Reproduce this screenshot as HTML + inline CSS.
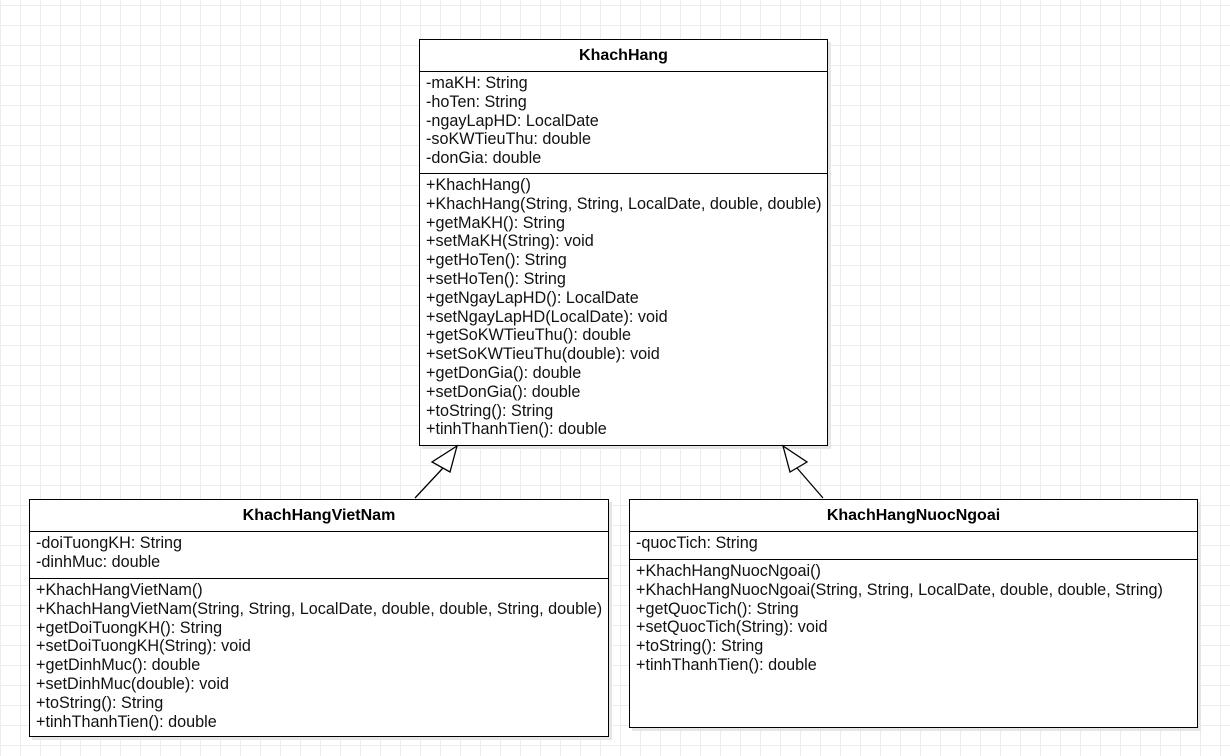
<!DOCTYPE html>
<html><head><meta charset="utf-8"><style>
body{margin:0;width:1230px;height:756px;overflow:hidden;background:#fff;
background-image:linear-gradient(#ececec 1px,transparent 1px),linear-gradient(90deg,#ececec 1px,transparent 1px);
background-size:20px 20px;background-position:0 5px,0 0;font-family:"Liberation Sans",sans-serif;}
.b{position:absolute;border:1px solid #000;background:#fff;box-shadow:3px 3px 0 #e6e6e6;box-sizing:border-box;}
.h{height:31px;border-bottom:1px solid #000;text-align:center;font-weight:bold;font-size:16px;line-height:31px;}
.s{border-bottom:1px solid #000;padding:2px 0 0 6px;font-size:16.2px;line-height:18.8px;color:#111;white-space:nowrap;box-sizing:border-box;}
.s.l{border-bottom:none}
svg{position:absolute;left:0;top:0}
</style></head><body>
<div class="b" style="left:419px;top:39px;width:409px;height:407px">
<div class="h">KhachHang</div>
<div class="s" style="height:102px">-maKH: String<br>-hoTen: String<br>-ngayLapHD: LocalDate<br>-soKWTieuThu: double<br>-donGia: double</div>
<div class="s l">+KhachHang()<br>+KhachHang(String, String, LocalDate, double, double)<br>+getMaKH(): String<br>+setMaKH(String): void<br>+getHoTen(): String<br>+setHoTen(): String<br>+getNgayLapHD(): LocalDate<br>+setNgayLapHD(LocalDate): void<br>+getSoKWTieuThu(): double<br>+setSoKWTieuThu(double): void<br>+getDonGia(): double<br>+setDonGia(): double<br>+toString(): String<br>+tinhThanhTien(): double</div>
</div>
<div class="b" style="left:29px;top:499px;width:580px;height:238px">
<div class="h">KhachHangVietNam</div>
<div class="s" style="height:47px">-doiTuongKH: String<br>-dinhMuc: double</div>
<div class="s l">+KhachHangVietNam()<br>+KhachHangVietNam(String, String, LocalDate, double, double, String, double)<br>+getDoiTuongKH(): String<br>+setDoiTuongKH(String): void<br>+getDinhMuc(): double<br>+setDinhMuc(double): void<br>+toString(): String<br>+tinhThanhTien(): double</div>
</div>
<div class="b" style="left:629px;top:499px;width:569px;height:229px">
<div class="h">KhachHangNuocNgoai</div>
<div class="s" style="height:28px">-quocTich: String</div>
<div class="s l">+KhachHangNuocNgoai()<br>+KhachHangNuocNgoai(String, String, LocalDate, double, double, String)<br>+getQuocTich(): String<br>+setQuocTich(String): void<br>+toString(): String<br>+tinhThanhTien(): double</div>
</div>
<svg width="1230" height="756">
<line x1="415" y1="498" x2="443" y2="468" stroke="#000" stroke-width="1.3"/>
<polygon points="457,446 432,462 450,472" fill="#fff" stroke="#000" stroke-width="1.3"/>
<line x1="823" y1="498" x2="797" y2="468" stroke="#000" stroke-width="1.3"/>
<polygon points="783,446 790,472 807,462" fill="#fff" stroke="#000" stroke-width="1.3"/>
</svg>
</body></html>
